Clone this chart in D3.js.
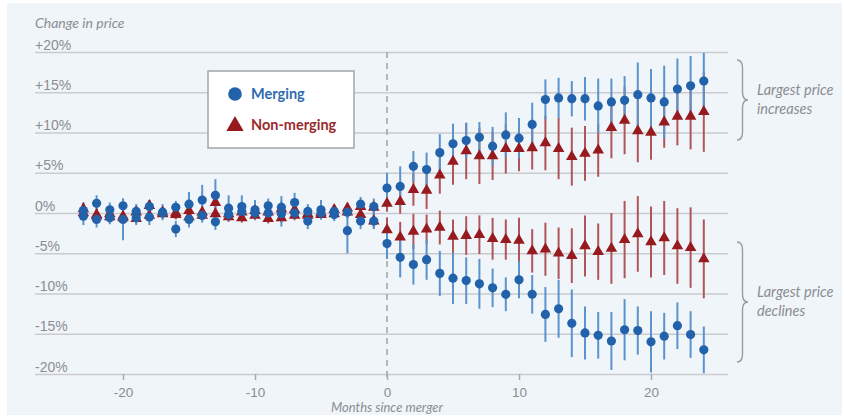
<!DOCTYPE html>
<html>
<head>
<meta charset="utf-8">
<script src="https://cdn.jsdelivr.net/npm/d3@7"></script>
<style>
  body { margin: 0; background: #fff; }
  svg { display: block; font-family: Lato, "Open Sans", sans-serif; }
</style>
</head>
<body>
<svg id="chart" width="844" height="417"></svg>
<script>
// Data
const months = [-23,-22,-21,-20,-19,-18,-17,-16,-15,-14,-13,-12,-11,-10,-9,-8,-7,-6,-5,-4,-3,-2,-1,
                 0,1,2,3,4,5,6,7,8,9,10,11,12,13,14,15,16,17,18,19,20,21,22,23,24];

// largest price increases
const incMerging    = [0.3,1.2,0.4,0.9,0.2,0.8,0.1,0.7,1.1,1.6,2.2,0.6,0.8,0.4,0.9,0.7,1.3,0.2,0.4,0.2,0.1,1.1,0.8,
                       3.1,3.3,5.8,5.4,7.5,8.6,9.0,9.4,8.3,9.7,9.3,11.0,14.1,14.3,14.2,14.2,13.3,13.8,14.0,14.7,14.3,13.8,15.4,15.8,16.4];
const incMergingErr = [1.0,1.0,0.9,0.9,0.9,0.8,1.0,0.8,1.5,1.9,2.0,1.6,1.4,1.2,0.9,1.4,1.2,0.9,1.2,0.8,0.8,0.9,1.0,
                       1.9,2.5,1.9,2.1,2.3,2.5,2.2,1.9,2.4,2.8,2.5,2.7,2.5,2.5,2.2,2.7,3.4,2.9,3.0,4.0,3.6,4.5,3.8,3.7,3.5];
const incNonMerging    = [0.5,-0.2,-0.1,-0.4,0.1,0.9,0.1,0.0,0.3,0.1,1.3,-0.1,0.1,0.3,0.1,0.5,0.4,-0.1,0.0,0.4,0.6,0.8,0.7,
                          1.2,1.4,2.9,2.8,4.7,6.4,7.7,7.1,7.1,8.0,8.0,8.1,8.7,8.0,7.0,7.4,7.8,10.6,11.5,10.2,10.0,11.3,12.0,12.0,12.6];
const incNonMergingErr = [0.8,0.8,0.7,0.6,0.8,0.7,0.6,0.7,0.7,0.8,0.9,0.7,0.7,0.6,0.6,0.6,0.7,0.6,0.6,0.6,0.6,0.8,0.7,
                          1.0,1.5,2.0,2.3,2.3,2.9,3.5,3.5,3.0,3.1,2.8,2.7,3.4,3.8,3.6,3.4,3.3,3.8,4.2,3.9,3.4,3.2,3.6,4.1,5.0];

// largest price declines
const decMerging    = [-0.4,-0.8,-0.6,-0.8,-0.6,-0.5,0.0,-2.0,-0.8,-0.3,-1.1,-0.2,0.2,0.0,0.0,-0.1,0.0,-1.0,0.0,-0.2,-2.2,-1.0,-1.0,
                       -3.8,-5.5,-6.4,-5.8,-7.5,-8.1,-8.4,-8.8,-9.3,-10.1,-8.3,-10.1,-12.6,-11.9,-13.7,-14.9,-15.2,-15.9,-14.5,-14.6,-16.0,-15.3,-14.0,-15.1,-17.0];
const decMergingErr = [1.1,1.0,0.8,2.6,0.9,1.0,0.7,1.0,1.0,0.9,1.0,0.8,0.8,0.8,0.8,1.6,0.8,1.0,0.8,0.8,2.8,1.0,1.0,
                       1.9,2.5,2.5,2.5,2.8,3.2,2.9,3.1,2.4,2.1,2.3,2.4,3.4,3.6,4.2,3.3,2.9,3.6,3.8,3.0,3.8,2.9,2.9,2.9,2.9];
const decNonMerging    = [0.0,-0.4,-0.5,-0.6,-0.7,-0.3,-0.1,-0.2,-0.5,-0.3,-0.1,-0.5,-0.6,-0.3,-0.7,-0.6,-0.3,-0.3,-0.2,-0.1,0.1,-0.2,-1.0,
                          -2.1,-3.0,-2.3,-2.0,-1.8,-2.9,-2.8,-2.7,-3.2,-3.3,-3.4,-4.7,-4.5,-5.0,-5.3,-4.1,-4.8,-4.4,-3.3,-2.6,-3.6,-3.1,-4.1,-4.3,-5.7];
const decNonMergingErr = [0.6,0.6,0.6,0.6,0.6,0.6,0.5,0.6,0.6,0.6,0.6,0.6,0.6,0.6,0.6,0.6,0.6,0.5,0.5,0.5,0.5,0.6,0.9,
                          1.5,1.9,2.2,1.8,2.1,2.1,2.4,2.4,2.6,2.5,2.8,2.7,3.3,3.2,3.4,3.8,3.5,4.4,4.8,4.7,4.4,4.6,4.7,5.0,4.9];

const yTicks = [20, 15, 10, 5, 0, -5, -10, -15, -20];
const yTickLabels = ["+20%", "+15%", "+10%", "+5%", "0%", "-5%", "-10%", "-15%", "-20%"];
const xTicks = [-20, -10, 0, 10, 20];
const xTickLabels = ["-20", "-10", "0", "10", "20"];

// Colours
const blueDot = "#2262ab", blueBar = "#5b93cc";
const redDot = "#971b1e", redBar = "#b0555a";
const gridCol = "#c9cbce", textCol = "#8a8d91";

const svg = d3.select("#chart");

// panel background
svg.append("rect")
    .attr("x", 7).attr("y", 3)
    .attr("width", 835).attr("height", 412)
    .attr("fill", "#f0f5fa");

const x = d3.scaleLinear().domain([-20, 20]).range([123, 651]);
const y = d3.scaleLinear().domain([-20, 20]).range([374, 52]);
const gridLeft = 35, gridRight = 728;

// y gridlines + labels
const yAxis = svg.append("g")
    .attr("transform", `translate(${gridLeft},0)`)
    .call(d3.axisRight(y).tickValues(yTicks).tickSize(gridRight - gridLeft)
        .tickFormat((d, i) => yTickLabels[i]));
yAxis.select(".domain").remove();
yAxis.selectAll(".tick line").attr("stroke", gridCol).attr("stroke-width", 1.6);
yAxis.selectAll(".tick text")
    .attr("x", 0).attr("y", -3).attr("dy", 0)
    .attr("text-anchor", "start")
    .attr("fill", textCol)
    .attr("font-size", 14);

// x axis ticks
const xAxis = svg.append("g")
    .attr("transform", `translate(0,${y(-20)})`)
    .call(d3.axisBottom(x).tickValues(xTicks).tickSize(6).tickPadding(7)
        .tickFormat((d, i) => xTickLabels[i]));
xAxis.select(".domain").remove();
xAxis.selectAll(".tick line").attr("stroke", "#aaaaaa").attr("stroke-width", 1.5);
xAxis.selectAll(".tick text").attr("fill", textCol).attr("font-size", 13.5);

// merger date line
svg.append("line")
    .attr("x1", x(0)).attr("x2", x(0))
    .attr("y1", y(20)).attr("y2", y(-20) + 6)
    .attr("stroke", "#a6a8ab")
    .attr("stroke-width", 1.6)
    .attr("stroke-dasharray", "6,5");

// axis titles
svg.append("text")
    .attr("x", gridLeft).attr("y", 28)
    .attr("fill", textCol).attr("font-size", 14).attr("font-style", "italic")
    .text("Change in price");
svg.append("text")
    .attr("x", x(0)).attr("y", 412)
    .attr("text-anchor", "middle")
    .attr("fill", textCol).attr("font-size", 13).attr("font-style", "italic")
    .text("Months since merger");

// series
const series = [
    { vals: incNonMerging, errs: incNonMergingErr, type: "tri" },
    { vals: decNonMerging, errs: decNonMergingErr, type: "tri" },
    { vals: incMerging, errs: incMergingErr, type: "dot" },
    { vals: decMerging, errs: decMergingErr, type: "dot" }
];
const rows = s => months.map((m, i) => ({ m: m, v: s.vals[i], e: s.errs[i] }));

// whiskers first
series.forEach(s => {
    svg.append("g").selectAll("line")
        .data(rows(s))
        .join("line")
        .attr("x1", d => x(d.m)).attr("x2", d => x(d.m))
        .attr("y1", d => y(d.v + d.e)).attr("y2", d => y(d.v - d.e))
        .attr("stroke", s.type === "dot" ? blueBar : redBar)
        .attr("stroke-width", 2);
});

// markers
const tri = d3.symbol().type(d3.symbolTriangle).size(58);
series.forEach(s => {
    const g = svg.append("g");
    if (s.type === "dot") {
        g.selectAll("circle")
            .data(rows(s))
            .join("circle")
            .attr("cx", d => x(d.m)).attr("cy", d => y(d.v))
            .attr("r", 4.6)
            .attr("fill", blueDot);
    } else {
        g.selectAll("path")
            .data(rows(s))
            .join("path")
            .attr("d", tri)
            .attr("transform", d => `translate(${x(d.m)},${y(d.v)})`)
            .attr("fill", redDot);
    }
});

// legend
const legend = svg.append("g");
legend.append("rect")
    .attr("x", 208).attr("y", 71)
    .attr("width", 146).attr("height", 77)
    .attr("fill", "#ffffff")
    .attr("stroke", "#a3a5a8").attr("stroke-width", 1.5);
legend.append("circle")
    .attr("cx", 235).attr("cy", 94).attr("r", 6.8)
    .attr("fill", blueDot);
legend.append("path")
    .attr("d", d3.symbol().type(d3.symbolTriangle).size(130)())
    .attr("transform", "translate(235,126)")
    .attr("fill", redDot);
legend.append("text")
    .attr("x", 251).attr("y", 99)
    .attr("fill", "#2f6bb0").attr("font-size", 14.5).attr("font-weight", 700)
    .text("Merging");
legend.append("text")
    .attr("x", 251).attr("y", 130)
    .attr("fill", "#9a2a2c").attr("font-size", 14.5).attr("font-weight", 700)
    .text("Non-merging");

// braces
function brace(x0, top, bottom) {
    const mid = (top + bottom) / 2, w = 11, r = 8;
    const xm = x0 + w / 2;
    return `M${x0},${top} Q${xm},${top} ${xm},${top + r} L${xm},${mid - r} Q${xm},${mid} ${x0 + w},${mid}` +
           ` Q${xm},${mid} ${xm},${mid + r} L${xm},${bottom - r} Q${xm},${bottom} ${x0},${bottom}`;
}
const notes = [
    { top: 60, bottom: 140, lines: ["Largest price", "increases"] },
    { top: 242, bottom: 362, lines: ["Largest price", "declines"] }
];
notes.forEach(n => {
    svg.append("path")
        .attr("d", brace(737, n.top, n.bottom))
        .attr("fill", "none")
        .attr("stroke", "#9a9ca0")
        .attr("stroke-width", 1.4);
    const mid = (n.top + n.bottom) / 2;
    n.lines.forEach((t, i) => {
        svg.append("text")
            .attr("x", 757).attr("y", mid - 5 + i * 19)
            .attr("fill", textCol).attr("font-size", 14.5).attr("font-style", "italic")
            .text(t);
    });
});
</script>
</body>
</html>
